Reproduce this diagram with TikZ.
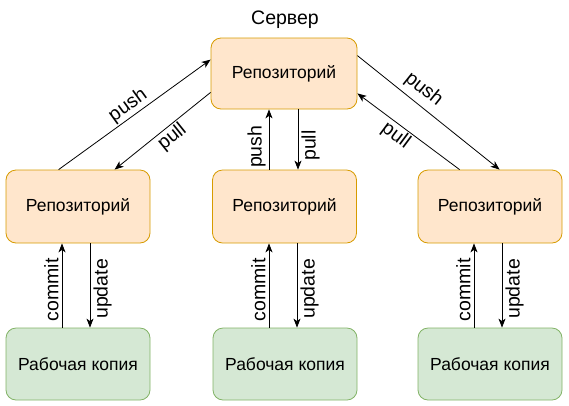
\documentclass[tikz,border=0pt]{standalone}
\usepackage{fontspec}
\setmainfont{Liberation Sans}
\usetikzlibrary{arrows.meta}
\definecolor{orfill}{HTML}{FFE6CC}
\definecolor{ordraw}{HTML}{D79B00}
\definecolor{grfill}{HTML}{D5E8D4}
\definecolor{grdraw}{HTML}{82B366}
\tikzset{
  repobox/.style={draw=ordraw, fill=orfill, rounded corners=10pt, minimum width=144pt, minimum height=73pt, inner sep=0pt, font=\fontsize{17.5}{20}\selectfont, line width=0.8pt},
  wcbox/.style={draw=grdraw, fill=grfill, rounded corners=10pt, minimum width=144pt, minimum height=72pt, inner sep=0pt, font=\fontsize{17.5}{20}\selectfont, line width=0.8pt},
  conn/.style={-{Stealth[length=9pt,width=7pt,inset=2.5pt]}, line width=0.8pt},
  lbl/.style={font=\fontsize{19.5}{22}\selectfont, inner sep=1.5pt},
  vleft/.style={lbl, rotate=90, anchor=south, inner sep=3pt},
  vright/.style={lbl, rotate=90, anchor=north, inner sep=3pt}
}
\begin{document}
\begin{tikzpicture}[x=1pt,y=-1pt]
\useasboundingbox (0,0) rectangle (569,405);
\node[repobox, minimum width=146pt, minimum height=71pt] (srv) at (284,73.5) {Репозиторий};
\node[lbl] (srvlbl) at (285,20) {Сервер};
\node[repobox] (lrepo) at (78,206.5) {Репозиторий};
\node[repobox] (mrepo) at (284.5,206.5) {Репозиторий};
\node[repobox] (rrepo) at (490,206.5) {Репозиторий};
\node[wcbox] (lwc) at (78,364) {Рабочая копия};
\node[wcbox] (mwc) at (285,364) {Рабочая копия};
\node[wcbox] (rwc) at (490,364) {Рабочая копия};
% left
\draw[conn] ([xshift=53pt]lrepo.north west) -- node[lbl, pos=0.5, sloped, above] {push} ([yshift=-22pt]srv.north west);
\draw[conn] ([yshift=17pt]srv.south west) -- node[lbl, pos=0.47, sloped, below] {pull} ([xshift=109pt]lrepo.north west);
% right
\draw[conn] ([yshift=-18pt]srv.north east) -- node[lbl, pos=0.4, sloped, above=4pt] {push} ([xshift=82pt]rrepo.north west);
\draw[conn] ([xshift=42pt]rrepo.north west) -- node[lbl, pos=0.56, sloped, below] {pull} ([yshift=16pt]srv.south east);
% middle
\draw[conn] ([xshift=-15.5pt]mrepo.north) -- node[vleft, pos=0.38] {push} ([xshift=-15pt]srv.south);
\draw[conn] ([xshift=14pt]srv.south) -- node[vright, pos=0.6] {pull} ([xshift=13.5pt]mrepo.north);
% commit / update
\draw[conn] ([xshift=-16pt]lwc.north) -- node[vleft, pos=0.45] {commit} ([xshift=-16pt]lrepo.south);
\draw[conn] ([xshift=12pt]lrepo.south) -- node[vright, pos=0.54] {update} ([xshift=12pt]lwc.north);
\draw[conn] ([xshift=-16pt]mwc.north) -- node[vleft, pos=0.45] {commit} ([xshift=-15.5pt]mrepo.south);
\draw[conn] ([xshift=12.5pt]mrepo.south) -- node[vright, pos=0.54] {update} ([xshift=12pt]mwc.north);
\draw[conn] ([xshift=-16pt]rwc.north) -- node[vleft, pos=0.45] {commit} ([xshift=-16pt]rrepo.south);
\draw[conn] ([xshift=12pt]rrepo.south) -- node[vright, pos=0.54] {update} ([xshift=12pt]rwc.north);
\end{tikzpicture}
\end{document}
